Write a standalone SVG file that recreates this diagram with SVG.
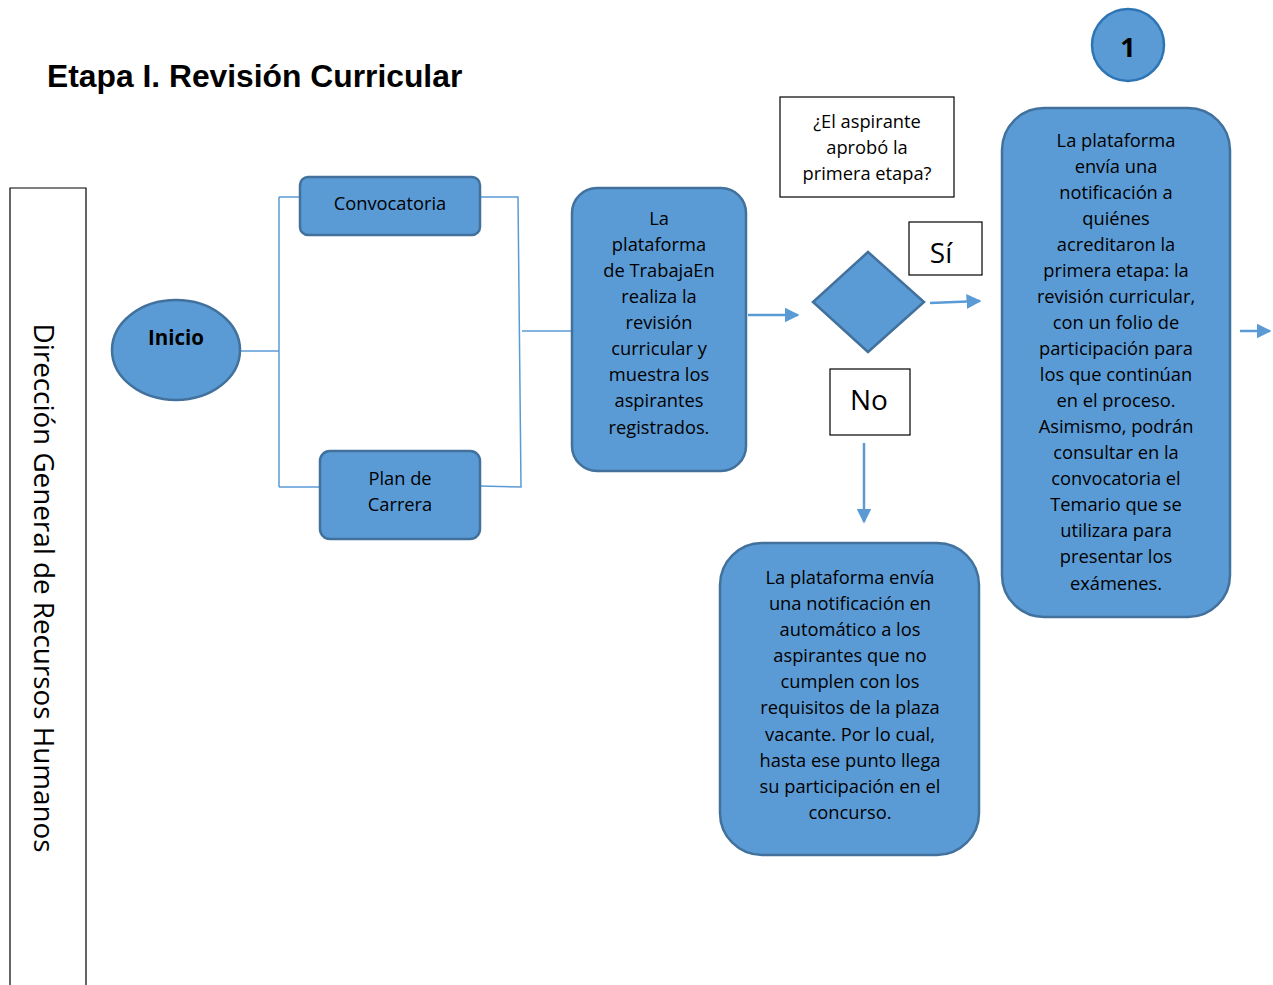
<svg xmlns="http://www.w3.org/2000/svg" width="1273" height="985" viewBox="0 0 1273 985">
<defs>
<style>
.node{fill:#5b9bd5;stroke:#41719c;stroke-width:2.5}
.lbl{fill:#fff;stroke:#000;stroke-width:1.2}
.t{font-family:"Open Sans","Noto Sans",sans-serif;font-size:18.3px;fill:#000;text-anchor:middle}
.big{font-family:"Open Sans","Noto Sans",sans-serif;font-size:28px;fill:#000;text-anchor:middle}
.con{fill:none;stroke:#5b9bd5;stroke-width:1.5}
.arr{fill:none;stroke:#5b9bd5;stroke-width:2.5;marker-end:url(#ah)}
</style>
<marker id="ah" viewBox="0 0 10 10" refX="9" refY="5" markerWidth="6" markerHeight="6" markerUnits="strokeWidth" orient="auto">
<path d="M0,0 L10,5 L0,10 z" fill="#5b9bd5"/>
</marker>
</defs>
<rect width="1273" height="985" fill="#fff"/>
<text x="47" y="87" font-family="Liberation Sans,Arial,sans-serif" font-weight="bold" font-size="31.8px" fill="#000">Etapa I. Revisión Curricular</text>

<g id="lane">
<path d="M10,985 V188 H86 V985" fill="none" stroke="#000" stroke-width="1.2"/>
<text transform="translate(34,588) rotate(90)" font-family="Open Sans,Noto Sans,sans-serif" font-size="27.8px" text-anchor="middle" fill="#000">Dirección General de Recursos Humanos</text>
</g>

<g id="connectors">
<path class="con" d="M240,351 H279 M279,197 V487 M279,197 H300 M279,487 H320"/>
<path class="con" d="M480,197 H518 L521,487 L480,486 M522,331 H571"/>
<path class="arr" d="M748,315 H798"/>
<path class="arr" d="M930,303 L980,301"/>
<path class="arr" d="M864,443 V522"/>
<path class="arr" d="M1240,331 H1270"/>
</g>

<g id="inicio">
<ellipse class="node" cx="176" cy="350" rx="64" ry="50"/>
<text x="176" y="345" font-family="Open Sans,Noto Sans,sans-serif" font-weight="bold" font-size="20.5px" text-anchor="middle" fill="#000">Inicio</text>
</g>

<g id="convocatoria">
<rect class="node" x="300" y="177" width="180" height="58" rx="8"/>
<text class="t" x="390" y="210">Convocatoria</text>
</g>

<g id="plan">
<rect class="node" x="320" y="451" width="160" height="88" rx="10"/>
<text class="t" x="400" y="485">Plan de</text>
<text class="t" x="400" y="511">Carrera</text>
</g>

<g id="revision">
<rect class="node" x="572" y="188" width="174" height="283" rx="25"/>
<text class="t" x="659" y="225">La</text>
<text class="t" x="659" y="251">plataforma</text>
<text class="t" x="659" y="277">de TrabajaEn</text>
<text class="t" x="659" y="303">realiza la</text>
<text class="t" x="659" y="329">revisión</text>
<text class="t" x="659" y="355">curricular y</text>
<text class="t" x="659" y="381">muestra los</text>
<text class="t" x="659" y="407">aspirantes</text>
<text class="t" x="659" y="434">registrados.</text>
</g>

<g id="pregunta">
<rect class="lbl" x="780" y="97" width="174" height="100"/>
<text class="t" x="867" y="128">¿El aspirante</text>
<text class="t" x="867" y="154">aprobó la</text>
<text class="t" x="867" y="180">primera etapa?</text>
</g>

<g id="decision">
<polygon class="node" points="868,252 924,302 868,352 813,302" stroke-width="2"/>
</g>

<g id="si">
<rect class="lbl" x="909" y="222" width="73" height="53"/>
<text class="big" x="941" y="263">Sí</text>
</g>

<g id="no">
<rect class="lbl" x="830" y="369" width="80" height="66"/>
<text class="big" x="869" y="410">No</text>
</g>

<g id="rechazo">
<rect class="node" x="720" y="543" width="259" height="312" rx="42"/>
<text class="t" x="850" y="584">La plataforma envía</text>
<text class="t" x="850" y="610">una notificación en</text>
<text class="t" x="850" y="636">automático a los</text>
<text class="t" x="850" y="662">aspirantes que no</text>
<text class="t" x="850" y="688">cumplen con los</text>
<text class="t" x="850" y="714">requisitos de la plaza</text>
<text class="t" x="850" y="741">vacante. Por lo cual,</text>
<text class="t" x="850" y="767">hasta ese punto llega</text>
<text class="t" x="850" y="793">su participación en el</text>
<text class="t" x="850" y="819">concurso.</text>
</g>

<g id="conector1">
<circle cx="1128" cy="45" r="36" fill="#5b9bd5" stroke="#2e75b6" stroke-width="2.5"/>
<text x="1128" y="57" font-family="Open Sans,Noto Sans,sans-serif" font-weight="bold" font-size="27px" text-anchor="middle" fill="#000">1</text>
</g>

<g id="aprobados">
<rect class="node" x="1002" y="108" width="228" height="509" rx="42"/>
<text class="t" x="1116" y="147">La plataforma</text>
<text class="t" x="1116" y="173">envía una</text>
<text class="t" x="1116" y="199">notificación a</text>
<text class="t" x="1116" y="225">quiénes</text>
<text class="t" x="1116" y="251">acreditaron la</text>
<text class="t" x="1116" y="277">primera etapa: la</text>
<text class="t" x="1116" y="303">revisión curricular,</text>
<text class="t" x="1116" y="329">con un folio de</text>
<text class="t" x="1116" y="355">participación para</text>
<text class="t" x="1116" y="381">los que continúan</text>
<text class="t" x="1116" y="407">en el proceso.</text>
<text class="t" x="1116" y="433">Asimismo, podrán</text>
<text class="t" x="1116" y="459">consultar en la</text>
<text class="t" x="1116" y="485">convocatoria el</text>
<text class="t" x="1116" y="511">Temario que se</text>
<text class="t" x="1116" y="537">utilizara para</text>
<text class="t" x="1116" y="563">presentar los</text>
<text class="t" x="1116" y="590">exámenes.</text>
</g>
</svg>
